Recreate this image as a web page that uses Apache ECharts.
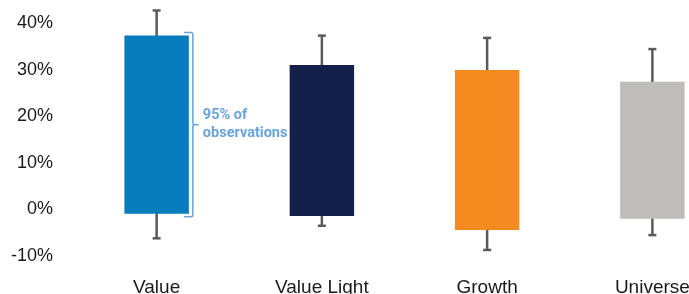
<!DOCTYPE html>
<html>
<head>
<meta charset="utf-8">
<script src="https://cdn.jsdelivr.net/npm/echarts@6/dist/echarts.min.js"></script>
<style>
  html, body { margin: 0; padding: 0; background: #fff; }
  #chart { width: 689px; height: 294px; }
</style>
</head>
<body>
<div id="chart"></div>
<script>
// category names and box colours
const categories = ['Value', 'Value Light', 'Growth', 'Universe']
const barColors = ['#077cbd', '#14204a', '#f58a20', '#bfbcb9']

// 95% range (box) and whisker ends, in %
const boxLow = [-0.9, -1.4, -4.4, -2.0]
const boxHigh = [37.4, 31.1, 30.0, 27.5]
const whiskerLow = [-6.2, -3.5, -8.7, -5.5]
const whiskerHigh = [42.8, 37.4, 36.9, 34.5]

const yTicks = [-10, 0, 10, 20, 30, 40]

const noteLines = ['95% of', 'observations']
const noteIndex = 0 // bracket sits next to 'Value'

const boxRatio = 0.39
const whiskerColor = '#5a5a5a'
const noteColor = '#6aa3dc'

const chart = echarts.init(document.getElementById('chart'))

function renderWhisker(params, api) {
  const i = api.value(0)
  const top = api.coord([i, api.value(1)])
  const bot = api.coord([i, api.value(2)])
  const x = top[0]
  const cap = 4
  const style = { stroke: whiskerColor, lineWidth: 2.5 }
  return {
    type: 'group',
    children: [
      { type: 'line', shape: { x1: x, y1: top[1], x2: x, y2: bot[1] }, style },
      { type: 'line', shape: { x1: x - cap, y1: top[1], x2: x + cap, y2: top[1] }, style },
      { type: 'line', shape: { x1: x - cap, y1: bot[1], x2: x + cap, y2: bot[1] }, style }
    ]
  }
}

function renderBox(params, api) {
  const i = api.value(0)
  const lo = api.coord([i, api.value(1)])
  const hi = api.coord([i, api.value(2)])
  const w = api.size([1, 0])[0] * boxRatio
  return {
    type: 'rect',
    shape: { x: lo[0] - w / 2, y: hi[1], width: w, height: lo[1] - hi[1] },
    style: { fill: barColors[i] }
  }
}

function renderBracket(params, api) {
  const i = api.value(0)
  const lo = api.coord([i, api.value(1)])
  const hi = api.coord([i, api.value(2)])
  const w = api.size([1, 0])[0] * boxRatio
  const x0 = lo[0] + w / 2 - 5
  const x1 = x0 + 9
  const yt = hi[1] - 3
  const yb = lo[1] + 3
  const ym = (yt + yb) / 2
  const r = 2
  const path = 'M' + x0 + ' ' + yt + ' L' + (x1 - r) + ' ' + yt +
    ' Q' + x1 + ' ' + yt + ' ' + x1 + ' ' + (yt + r) +
    ' L' + x1 + ' ' + (ym - r) + ' Q' + x1 + ' ' + ym + ' ' + (x1 + r) + ' ' + ym +
    ' L' + (x1 + 6) + ' ' + ym +
    ' M' + (x1 + r) + ' ' + ym + ' Q' + x1 + ' ' + ym + ' ' + x1 + ' ' + (ym + r) +
    ' L' + x1 + ' ' + (yb - r) + ' Q' + x1 + ' ' + yb + ' ' + (x1 - r) + ' ' + yb +
    ' L' + x0 + ' ' + yb
  return {
    type: 'group',
    children: [
      { type: 'path', shape: { pathData: path }, style: { stroke: noteColor, lineWidth: 1.5, fill: null } },
      {
        type: 'text',
        x: x1 + 10,
        y: ym,
        style: {
          text: noteLines.join('\n'),
          fill: noteColor,
          font: 'bold 14.5px Roboto',
          lineHeight: 18,
          verticalAlign: 'middle',
          align: 'left'
        }
      }
    ]
  }
}

chart.setOption({
  animation: false,
  grid: { left: 74, width: 661, top: 23.5, bottom: 38, outerBoundsMode: 'none' },
  xAxis: {
    type: 'category',
    data: categories,
    axisLine: { show: false },
    axisTick: { show: false },
    axisLabel: { color: '#1a1a1a', fontSize: 19, fontFamily: 'Liberation Sans', margin: 22 }
  },
  yAxis: {
    type: 'value',
    min: yTicks[0],
    max: yTicks[yTicks.length - 1],
    interval: 10,
    splitLine: { show: false },
    axisLine: { show: false },
    axisTick: { show: false },
    axisLabel: {
      color: '#1a1a1a',
      fontSize: 18,
      fontFamily: 'Liberation Sans',
      margin: 21,
      formatter: v => v + '%'
    }
  },
  series: [
    {
      type: 'custom',
      renderItem: renderWhisker,
      data: categories.map((c, i) => [i, whiskerHigh[i], whiskerLow[i]]),
      z: 1
    },
    {
      type: 'custom',
      renderItem: renderBox,
      data: categories.map((c, i) => [i, boxLow[i], boxHigh[i]]),
      z: 2
    },
    {
      type: 'custom',
      renderItem: renderBracket,
      data: [[noteIndex, boxLow[noteIndex], boxHigh[noteIndex]]],
      z: 3
    }
  ]
})
</script>
</body>
</html>
